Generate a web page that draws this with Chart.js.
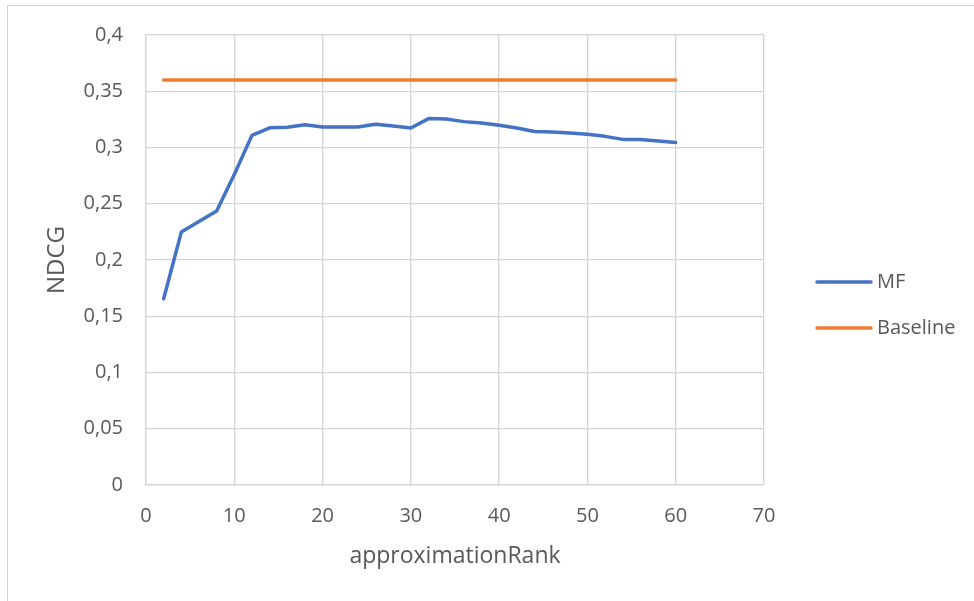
<!DOCTYPE html>
<html>
<head>
<meta charset="utf-8">
<script src="https://cdn.jsdelivr.net/npm/chart.js@4/dist/chart.umd.min.js"></script>
<style>
  html, body { margin: 0; padding: 0; background: #ffffff; overflow: hidden; }
  #wrap { position: relative; width: 974px; height: 601px; }
  #frame { position: absolute; left: 7px; top: 5px; width: 1000px; height: 700px;
           border-left: 1px solid #d0d0d0; border-top: 1px solid #d0d0d0; pointer-events: none; }
  canvas { position: absolute; left: 0; top: 0; }
</style>
</head>
<body>
<div id="wrap">
  <canvas id="chart" width="974" height="601"></canvas>
  <div id="frame"></div>
</div>
<script>
// approximationRank values on the x axis
const ranks = [2, 4, 6, 8, 10, 12, 14, 16, 18, 20, 22, 24, 26, 28, 30,
               32, 34, 36, 38, 40, 42, 44, 46, 48, 50, 52, 54, 56, 58, 60];

// NDCG of the matrix-factorisation model
const mfNdcg = [0.1655, 0.2248, 0.2343, 0.2435, 0.2760, 0.3108, 0.3175, 0.3180, 0.3203, 0.3182,
                0.3183, 0.3183, 0.3206, 0.3192, 0.3173, 0.3257, 0.3253, 0.3230, 0.3218, 0.3197,
                0.3173, 0.3143, 0.3138, 0.3129, 0.3117, 0.3099, 0.3072, 0.3072, 0.3058, 0.3045];

// NDCG of the baseline
const baselineNdcg = [0.36, 0.36, 0.36, 0.36, 0.36, 0.36, 0.36, 0.36, 0.36, 0.36,
                      0.36, 0.36, 0.36, 0.36, 0.36, 0.36, 0.36, 0.36, 0.36, 0.36,
                      0.36, 0.36, 0.36, 0.36, 0.36, 0.36, 0.36, 0.36, 0.36, 0.36];

const seriesNames = ['MF', 'Baseline'];

// Axis tick labels (decimal comma)
const yTickLabels = ['0', '0,05', '0,1', '0,15', '0,2', '0,25', '0,3', '0,35', '0,4'];
const xTickLabels = ['0', '10', '20', '30', '40', '50', '60', '70'];

const TEXT = '#595959';
const GRID = '#d4d4d4';
const FONT = "'Open Sans', sans-serif";

const toPoints = (xs, ys) => xs.map((x, i) => ({ x: x, y: ys[i] }));

// Legend drawn to the right of the plot, one line sample + label per series
const sideLegend = {
  id: 'sideLegend',
  afterDraw(chart, args, opts) {
    const ctx = chart.ctx;
    ctx.save();
    ctx.font = `${opts.fontSize}px ${FONT}`;
    ctx.textBaseline = 'middle';
    ctx.textAlign = 'left';
    chart.data.datasets.forEach((ds, i) => {
      const y = opts.top + i * opts.spacing;
      ctx.strokeStyle = ds.borderColor;
      ctx.lineWidth = ds.borderWidth;
      ctx.lineCap = 'round';
      ctx.beginPath();
      ctx.moveTo(opts.x, y);
      ctx.lineTo(opts.x + opts.sampleWidth, y);
      ctx.stroke();
      ctx.fillStyle = TEXT;
      ctx.fillText(ds.label, opts.x + opts.sampleWidth + opts.gap, y);
    });
    ctx.restore();
  }
};

new Chart(document.getElementById('chart'), {
  type: 'line',
  data: {
    datasets: [
      {
        label: seriesNames[0],
        data: toPoints(ranks, mfNdcg),
        borderColor: '#4472C4',
        backgroundColor: '#4472C4',
        borderWidth: 3.5,
        pointRadius: 0,
        borderCapStyle: 'round',
        borderJoinStyle: 'round',
        tension: 0
      },
      {
        label: seriesNames[1],
        data: toPoints(ranks, baselineNdcg),
        borderColor: '#ED7D31',
        backgroundColor: '#ED7D31',
        borderWidth: 3.5,
        pointRadius: 0,
        borderCapStyle: 'round',
        borderJoinStyle: 'round',
        tension: 0
      }
    ]
  },
  options: {
    responsive: false,
    animation: false,
    devicePixelRatio: 1,
    layout: { padding: { left: 0, top: 35, right: 210, bottom: 0 } },
    plugins: {
      legend: { display: false },
      tooltip: { enabled: false },
      sideLegend: { x: 817, top: 282, spacing: 46, sampleWidth: 54, gap: 6, fontSize: 20 }
    },
    scales: {
      x: {
        type: 'linear',
        min: 0,
        max: 70,
        afterFit(scale) { scale.height = 116; },
        afterBuildTicks(scale) {
          scale.ticks = xTickLabels.map(t => ({ value: Number(t) }));
        },
        ticks: {
          color: TEXT,
          font: { family: FONT, size: 20 },
          padding: 19,
          maxRotation: 0,
          autoSkip: false,
          callback: (v, i) => xTickLabels[i]
        },
        grid: { color: GRID, lineWidth: 1.3, drawTicks: false },
        border: { color: GRID, width: 1.3 },
        title: {
          display: true,
          text: 'approximationRank',
          color: TEXT,
          font: { family: FONT, size: 23 },
          padding: { top: 0, bottom: 31 }
        }
      },
      y: {
        type: 'linear',
        min: 0,
        max: 0.4,
        afterFit(scale) { scale.width = 146; },
        afterBuildTicks(scale) {
          scale.ticks = yTickLabels.map((t, i) => ({ value: i * 0.05 }));
        },
        ticks: {
          color: TEXT,
          font: { family: FONT, size: 20 },
          padding: 23,
          autoSkip: false,
          callback: (v, i) => yTickLabels[i]
        },
        grid: { color: GRID, lineWidth: 1.3, drawTicks: false },
        border: { color: GRID, width: 1.3 },
        title: {
          display: true,
          text: 'NDCG',
          color: TEXT,
          font: { family: FONT, size: 24 },
          padding: { top: 42.6, bottom: 0 }
        }
      }
    }
  },
  plugins: [sideLegend]
});
</script>
</body>
</html>
